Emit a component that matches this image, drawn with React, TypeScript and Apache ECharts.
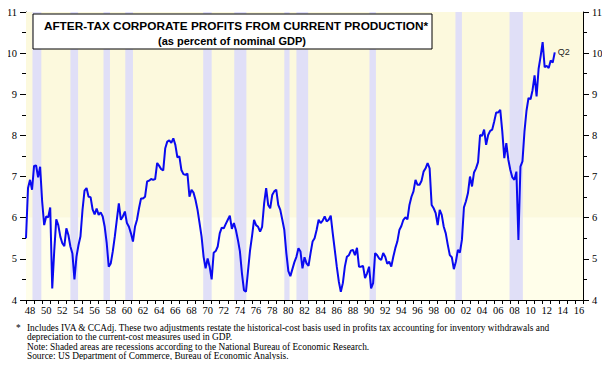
import React, { useEffect, useRef } from "react";
import * as echarts from "echarts";

// x range of the chart (years)
const X_MIN = 1948;
const X_MAX = 2017;
// first plotted quarter sits at the left edge, one point per quarter
const FIRST_POINT = 1948.0;
const QUARTER = 0.25;

// After-tax corporate profits (% of nominal GDP), quarterly
const PROFITS_1948_1959 = [
  5.5, 6.72, 6.92, 6.68, 7.26, 7.27, 6.98, 7.24, 6.4, 5.82, 6.03, 6.01,
  6.25, 4.28, 5.2, 5.96, 5.82, 5.54, 5.38, 5.31, 5.74, 5.58, 5.3, 5.13,
  4.5, 5.05, 5.33, 5.55, 6.19, 6.66, 6.72, 6.51, 6.5, 6.2, 6.08, 6.22,
  6.07, 6.13, 6.03, 5.78, 5.38, 4.81, 4.89, 5.18, 5.54, 5.95, 6.35, 5.95,
];
const PROFITS_1960_1969 = [
  6.03, 6.15, 5.87, 5.78, 5.62, 5.42, 5.78, 5.95, 6.23, 6.47, 6.47, 6.51,
  6.88, 6.9, 6.94, 6.92, 6.94, 7.33, 7.26, 7.18, 7.15, 7.69, 7.85, 7.88,
  7.82, 7.93, 7.77, 7.47, 7.49, 7.16, 7.06, 7.04, 7.07, 6.51, 6.68, 6.61,
  6.43, 6.19, 5.87, 5.54,
];
const PROFITS_1970_1979 = [
  5.05, 4.77, 5.01, 4.81, 4.5, 5.15, 5.19, 5.3, 5.62, 5.76, 5.74, 5.85,
  5.95, 6.05, 5.73, 5.87, 5.7, 5.46, 5.18, 4.65, 4.24, 4.2, 4.7, 5.2,
  5.55, 5.95, 5.82, 5.78, 5.66, 5.78, 6.35, 6.72, 6.31, 6.23, 6.55, 6.64,
  6.68, 6.31, 6.19, 5.95,
];
const PROFITS_1980_1989 = [
  5.7, 5.14, 4.7, 4.58, 4.75, 4.92, 5.05, 5.26, 5.18, 4.77, 5.04, 4.89,
  4.83, 5.14, 5.42, 5.5, 5.7, 5.95, 5.87, 5.93, 6.03, 5.91, 5.95, 6.05,
  5.62, 5.22, 4.81, 4.45, 4.2, 4.41, 4.81, 5.05, 5.09, 5.2, 5.22, 5.09,
  5.27, 4.81, 4.81, 4.83,
];
const PROFITS_1990_1999 = [
  4.53, 4.65, 4.81, 4.28, 4.41, 5.14, 5.09, 5.01, 4.97, 5.14, 5.05, 4.88,
  4.93, 4.81, 5.05, 5.26, 5.42, 5.7, 5.8, 5.95, 6.01, 5.96, 6.31, 6.51,
  6.64, 6.92, 6.8, 6.8, 6.9, 7.12, 7.2, 7.33, 7.2, 6.31, 6.23, 6.11,
  5.82, 6.19, 6.07, 5.78,
];
const PROFITS_2000_2013 = [
  5.62, 5.34, 5.09, 5.04, 4.75, 4.93, 5.22, 5.15, 5.46, 6.25, 6.4, 6.6,
  7.0, 6.76, 7.1, 7.2, 7.35, 8.01, 7.99, 8.14, 7.77, 8.01, 8.11, 8.14,
  8.34, 8.56, 8.56, 8.62, 8.1, 7.45, 7.81, 7.41, 7.16, 6.98, 6.92, 7.12,
  5.46, 7.24, 7.37, 8.1, 8.6, 8.91, 8.88, 9.1, 9.46, 8.95, 9.62, 9.92,
  10.27, 9.66, 9.69, 9.64, 9.82, 9.77, 10.02,
];
const PROFITS = [
  ...PROFITS_1948_1959,
  ...PROFITS_1960_1969,
  ...PROFITS_1970_1979,
  ...PROFITS_1980_1989,
  ...PROFITS_1990_1999,
  ...PROFITS_2000_2013,
];
const LAST_LABEL = "Q2";

// NBER recessions (shaded)
const RECESSION_START = [1948.8, 1953.5, 1957.6, 1960.3, 1969.95, 1973.8, 1980.0, 1981.5, 1990.55, 2001.2, 2007.9];
const RECESSION_END = [1949.9, 1954.45, 1958.4, 1961.25, 1971.0, 1975.3, 1980.65, 1982.95, 1991.35, 2002.0, 2009.55];

// axes
const Y_MIN = 4;
const Y_MAX = 11;
const YEARS = Array.from({ length: X_MAX - X_MIN }, (_, i) => X_MIN + i);
const YEAR_LABELS = YEARS.map((y) => String(y % 100).padStart(2, "0"));

const TITLE = "AFTER-TAX CORPORATE PROFITS FROM CURRENT PRODUCTION*";
const SUBTITLE = "(as percent of nominal GDP)";
const FOOTNOTES = [
  "Includes IVA & CCAdj. These two adjustments restate the historical-cost basis used in profits tax accounting for inventory withdrawals and",
  "depreciation to the current-cost measures used in GDP.",
  "Note: Shaded areas are recessions according to the National Bureau of Economic Research.",
  "Source: US Department of Commerce, Bureau of Economic Analysis.",
];

const SERIF = '"Liberation Serif", "Times New Roman", serif';
const SANS = '"Liberation Sans", Arial, sans-serif';

export default function App() {
  const ref = useRef<HTMLDivElement>(null);

  useEffect(() => {
    if (!ref.current) return;
    const chart = echarts.init(ref.current, undefined, { renderer: "svg" });

    const yAxisCommon = {
      type: "value",
      min: Y_MIN,
      max: Y_MAX,
      interval: 1,
      axisLine: { show: true, lineStyle: { color: "#000", width: 1 } },
      axisTick: { show: true, inside: false, length: 6, lineStyle: { color: "#000", width: 1 } },
      minorTick: { show: true, splitNumber: 2, length: 4, lineStyle: { color: "#000", width: 1 } },
      splitLine: { show: false },
      minorSplitLine: { show: false },
      axisLabel: { color: "#000", fontFamily: SERIF, fontSize: 10.5, margin: 9 },
    };

    const option = {
      animation: false,
      grid: { left: 26, right: 27, top: 12, bottom: 68, containLabel: false },
      xAxis: [
        {
          type: "category",
          data: YEAR_LABELS,
          boundaryGap: true,
          position: "bottom",
          axisLine: { show: true, onZero: false, lineStyle: { color: "#000", width: 1 } },
          axisTick: { show: true, interval: 0, length: 4, lineStyle: { color: "#000", width: 1 } },
          axisLabel: { interval: 1, color: "#000", fontFamily: SERIF, fontSize: 10.5, margin: 5 },
          splitLine: { show: false },
          z: 5,
        },
        { type: "value", min: X_MIN, max: X_MAX, show: false },
      ],
      yAxis: [
        { ...yAxisCommon, position: "left" },
        { ...yAxisCommon, position: "right" },
      ],
      series: [
        {
          type: "line",
          xAxisIndex: 1,
          yAxisIndex: 0,
          data: [],
          silent: true,
          z: 1,
          markArea: {
            silent: true,
            data: [
              [
                { coord: [X_MIN, 6], itemStyle: { color: "#fcf9dd" } },
                { coord: [X_MAX, Y_MAX] },
              ],
              [
                { coord: [X_MIN, Y_MIN], itemStyle: { color: "#fffeea" } },
                { coord: [X_MAX, 6] },
              ],
            ],
          },
        },
        {
          type: "line",
          xAxisIndex: 1,
          yAxisIndex: 0,
          data: [],
          silent: true,
          z: 2,
          markArea: {
            silent: true,
            itemStyle: { color: "#e0dff7" },
            data: RECESSION_START.map((s, i) => [{ coord: [s, Y_MIN] }, { coord: [RECESSION_END[i], Y_MAX] }]),
          },
        },
        {
          type: "line",
          xAxisIndex: 1,
          yAxisIndex: 0,
          z: 3,
          data: PROFITS.map((v, i) => [FIRST_POINT + i * QUARTER, v]),
          symbol: "none",
          smooth: false,
          lineStyle: { color: "#0a0af0", width: 2 },
          endLabel: {
            show: true,
            formatter: LAST_LABEL,
            color: "#222",
            fontFamily: SANS,
            fontSize: 9,
            distance: 3,
          },
        },
      ],
      graphic: [
        {
          type: "rect",
          z: 100,
          shape: { x: 33, y: 14, width: 399, height: 35 },
          style: { fill: "#fff", stroke: "#000", lineWidth: 1 },
        },
        {
          type: "text",
          z: 101,
          x: 236,
          y: 26,
          style: {
            text: TITLE,
            font: `bold 11.8px ${SANS}`,
            fill: "#000",
            textAlign: "center",
            textVerticalAlign: "middle",
          },
        },
        {
          type: "text",
          z: 101,
          x: 232,
          y: 41,
          style: {
            text: SUBTITLE,
            font: `bold 11px ${SANS}`,
            fill: "#000",
            textAlign: "center",
            textVerticalAlign: "middle",
          },
        },
        {
          type: "text",
          z: 101,
          x: 16,
          y: 328,
          style: { text: "*", font: `9.35px ${SERIF}`, fill: "#000", textVerticalAlign: "middle" },
        },
        ...FOOTNOTES.map((t, i) => ({
          type: "text",
          z: 101,
          x: 27,
          y: 327.5 + i * 9.6,
          style: { text: t, font: `9.35px ${SERIF}`, fill: "#000", textVerticalAlign: "middle" },
        })),
      ],
    };

    chart.setOption(option as any);
    return () => chart.dispose();
  }, []);

  return <div ref={ref} style={{ width: 610, height: 368, margin: -8 }} />;
}
